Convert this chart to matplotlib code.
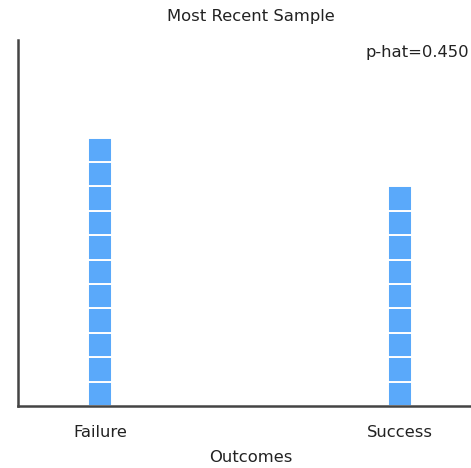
import matplotlib.pyplot as plt
import numpy as np

outcomes = ["Failure", "Success"]
counts = [11, 9]
p_hat = 0.450

plt.rcParams['font.family'] = ['DejaVu Sans']

W, H = 471, 468
fig = plt.figure(figsize=(W / 100, H / 100), dpi=100)
ax = fig.add_axes([18 / W, (H - 406) / H, (W - 18) / W, (406 - 40) / H])

xpos = np.arange(len(outcomes))
for x, n in zip(xpos, counts):
    ax.bar(np.full(n, x), np.ones(n), bottom=np.arange(n), width=0.08,
           color='#5aa9fa', edgecolor='white', linewidth=1.4)

ax.set_xlim(-0.2733, 1.2367)
ax.set_ylim(0, 15)
ax.set_xticks(xpos)
ax.set_xticklabels(outcomes, fontsize=11.8, color='#222222')
ax.tick_params(axis='x', length=0, pad=14)
ax.set_yticks([])
for s in ['top', 'right']:
    ax.spines[s].set_visible(False)
for s in ['left', 'bottom']:
    ax.spines[s].set_color('#444444')
    ax.spines[s].set_linewidth(1.8)

fig.text(251 / W, 1 - 16 / H, 'Most Recent Sample', ha='center', va='center',
         fontsize=11.8, color='#222222')
fig.text(1 - 2 / W, 1 - 52 / H, 'p-hat=%.3f' % p_hat, ha='right', va='center',
         fontsize=11.8, color='#222222')
fig.text(251 / W, 1 - 457 / H, 'Outcomes', ha='center', va='center',
         fontsize=11.8, color='#222222')

fig.savefig('out.png', dpi=100)
